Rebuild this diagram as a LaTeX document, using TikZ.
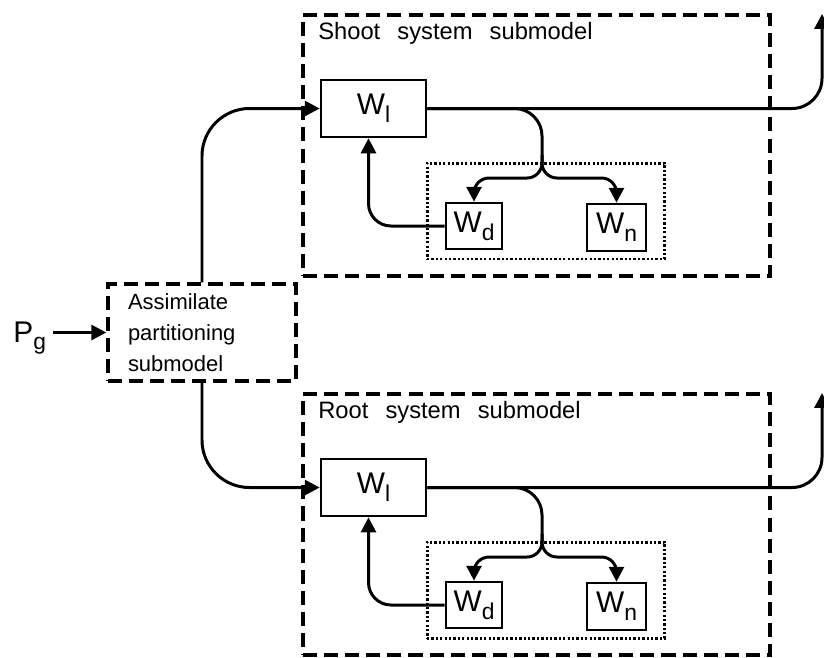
\documentclass[tikz,border=0pt]{standalone}
\usepackage{fontspec}
\setmainfont{Liberation Sans}
\newfontfamily\titlefont[WordSpace=2.6]{Liberation Sans}
\usetikzlibrary{arrows.meta}
\tikzset{
  line/.style={line width=1.7pt},
  arr/.style={line, -{Triangle[length=8.5pt,width=8.5pt]}},
  wbox/.style={draw, line width=1.5pt, inner sep=0pt, font=\fontsize{17}{20}\selectfont},
  dashbox/.style={draw, line width=2pt, dash pattern=on 8pt off 4pt, inner sep=0pt},
  dotbox/.style={draw, line width=1.7pt, dash pattern=on 1.3pt off 1.2pt, inner sep=0pt}
}
\newcommand{\wsub}[2]{#1\raisebox{-4.5pt}{\fontsize{13}{13}\selectfont #2}}

\begin{document}
\begin{tikzpicture}[x=0.02cm, y=-0.02cm]
\useasboundingbox (0,0) rectangle (824,657);

% assimilate partitioning
\node[dashbox, text width=2.96cm, inner xsep=0.4cm, minimum height=1.94cm, align=left,
      font=\fontsize{12.5}{17.5}\selectfont] (assim) at (202,332.5)
      {Assimilate\\partitioning\\submodel};
\node[font=\fontsize{17}{20}\selectfont, anchor=base west, inner sep=0pt] (pg) at (13,342) {\wsub{P}{g}};
\draw[arr, shorten <=4pt] (pg.east |- assim.west) -- (assim.west);

% shoot and root submodels
\foreach \subm/\ttl/\dy in {shoot/Shoot/0, root/Root/379} {
  \node[dashbox, minimum width=9.34cm, minimum height=5.22cm] (\subm-box) at (536.5,145.5+\dy) {};
  \node[anchor=base west, inner sep=0pt, font=\titlefont\fontsize{13.5}{16}\selectfont]
        (\subm-title) at (318,39+\dy) {\ttl{} system submodel};
  \node[dotbox, minimum width=4.76cm, minimum height=1.92cm] (\subm-dot) at (546,211+\dy) {};
  \node[wbox, minimum width=2.1cm, minimum height=1.14cm] (\subm-wl) at (373.5,108.5+\dy) {\wsub{W}{l}};
  \node[wbox, minimum width=1.12cm, minimum height=0.92cm] (\subm-wd) at (474,226+\dy) {\wsub{W}{d}};
  \node[wbox, minimum width=1.18cm, minimum height=0.94cm] (\subm-wn) at (616.5,227.5+\dy) {\wsub{W}{n}};
  \coordinate (\subm-out) at (822,14+\dy);
  \coordinate (\subm-fork) at (542,155+\dy);
  \coordinate (\subm-lvl) at (542,178+\dy);

  \draw[arr, rounded corners=0.6cm] (\subm-wl.east) -| (\subm-out);
  \draw[line, rounded corners=0.55cm] (\subm-wl.east) -| (\subm-fork);
  \draw[arr, rounded corners=0.3cm] (\subm-fork) |- (\subm-lvl -| \subm-wd.north) -- (\subm-wd.north);
  \draw[arr, rounded corners=0.3cm] (\subm-fork) |- (\subm-lvl -| \subm-wn.north) -- (\subm-wn.north);
  \draw[arr, rounded corners=0.45cm] (\subm-wd.west) -| ([xshift=-0.1cm]\subm-wl.south);
}

\draw[arr, rounded corners=0.95cm] (assim.north) |- (shoot-wl.west);
\draw[arr, rounded corners=0.95cm] (assim.south) |- (root-wl.west);
\end{tikzpicture}
\end{document}
